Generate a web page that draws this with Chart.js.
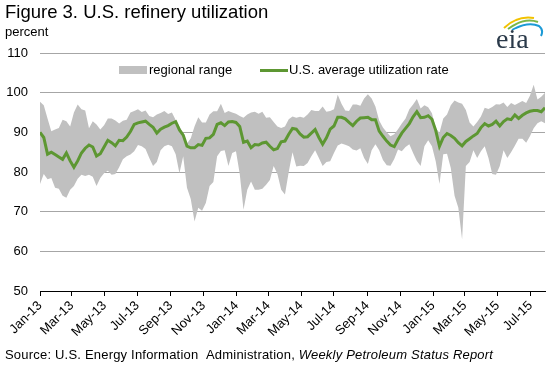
<!DOCTYPE html>
<html>
<head>
<meta charset="utf-8">
<script src="https://cdn.jsdelivr.net/npm/chart.js@4"></script>
<style>
  body { margin: 0; background: #fff; font-family: Arial, "Liberation Sans", sans-serif; }
  #wrap { position: relative; width: 552px; height: 366px; overflow: hidden; }
  #c { position: absolute; left: 0; top: 0; }
  .t { position: absolute; white-space: nowrap; color: #000; }
</style>
</head>
<body>
<div id="wrap">
  <canvas id="c" width="552" height="366"></canvas>
  <div class="t" style="left:5px;top:1px;font-size:18.5px">Figure 3. U.S. refinery utilization</div>
  <div class="t" style="left:5px;top:24px;font-size:13px">percent</div>

  <!-- legend -->
  <div style="position:absolute;left:119px;top:66px;width:28px;height:8px;background:#c0c0c0"></div>
  <div class="t" style="left:149px;top:62px;font-size:13px">regional range</div>
  <div style="position:absolute;left:260px;top:69px;width:28px;height:3px;background:#5d9732"></div>
  <div class="t" style="left:289px;top:62px;font-size:13px">U.S. average utilization rate</div>

  <!-- eia logo -->
  <svg style="position:absolute;left:500px;top:12px" width="48" height="26">
    <path d="M4,16 Q18,3 34,6" stroke="#f2c200" stroke-width="2" fill="none"/>
    <path d="M8,17 Q24,5 38,10" stroke="#7ab648" stroke-width="2" fill="none"/>
    <path d="M12,18 Q28,9 39,14 Q44,18 41,24" stroke="#1c9ad6" stroke-width="2" fill="none"/>
  </svg>
  <div class="t" style="left:496px;top:23px;font-size:28px;font-family:'Liberation Serif',serif;color:#2b3a4a">eia</div>

  <div class="t" style="left:5px;top:347px;font-size:13px;letter-spacing:0.2px">Source: U.S. Energy Information &nbsp;Administration, <i>Weekly Petroleum Status Report</i></div>
</div>

<script>
// weekly data, first week ending Jan 4 2013
const firstWeek = Date.UTC(2013, 0, 4);

const avgRate = [
  90.0, 88.7, 84.5, 85.0, 84.4, 83.8, 83.2, 84.8, 82.8, 81.2,
  82.8, 84.8, 86.0, 86.8, 86.3, 84.0, 84.6, 86.3, 88.0, 87.4,
  86.6, 88.0, 87.9, 88.8, 90.2, 92.0, 92.4, 92.6, 92.8, 92.0,
  91.3, 89.8, 90.8, 91.3, 91.7, 92.3, 92.7, 90.6, 89.3, 86.5,
  86.1, 86.1, 86.9, 86.7, 88.5, 88.6, 89.5, 92.0, 92.4, 91.7,
  92.6, 92.7, 92.5, 91.5, 87.5, 87.8, 86.1, 86.9, 86.8, 87.3,
  87.5, 86.5, 85.6, 85.9, 87.6, 87.8, 89.5, 91.0, 90.8, 89.6,
  88.8, 88.9, 89.8, 90.7, 88.7, 87.0, 88.6, 90.8, 91.6, 93.8,
  93.8, 93.4, 92.5, 91.7, 92.8, 93.6, 93.7, 93.8, 93.2, 93.2,
  90.3, 89.0, 87.8, 86.8, 86.4, 88.2, 89.8, 91.0, 92.2, 93.9,
  95.2, 93.7, 93.8, 94.2, 93.3, 90.5, 86.5, 88.7, 89.7, 89.2,
  88.5, 87.4, 86.6, 87.7, 88.4, 89.1, 89.7, 91.2, 92.2, 91.6,
  92.0, 92.8, 91.6, 92.7, 93.4, 93.2, 94.4, 93.5, 94.3, 94.9,
  95.3, 95.5, 95.5, 95.2, 96.2
];

const rangeMax = [
  97.7, 96.8, 93.5, 90.3, 90.7, 91.1, 93.2, 92.8, 91.5, 95.0,
  97.0, 95.8, 95.5, 91.0, 92.8, 92.0, 90.7, 91.8, 93.5, 93.5,
  93.0, 92.2, 92.9, 93.2, 95.0, 95.4, 95.8, 95.1, 95.5, 94.1,
  93.8, 94.5, 94.9, 95.4, 94.6, 95.0, 93.1, 91.5, 89.8, 87.2,
  88.5, 91.5, 93.8, 92.5, 92.5, 94.5, 95.3, 95.3, 97.2, 94.9,
  95.4, 95.0, 94.7, 94.1, 93.7, 94.5, 95.0, 95.2, 94.7, 95.2,
  93.7, 93.8, 92.6, 91.5, 91.1, 91.5, 93.3, 94.0, 93.7, 93.9,
  93.7, 94.5, 95.6, 95.4, 95.4, 96.5, 95.2, 95.4, 95.8, 99.5,
  97.2, 95.5, 95.4, 97.0, 97.0, 96.7, 98.5, 99.6, 98.5, 96.5,
  93.0, 91.2, 90.0, 89.0, 89.5, 90.8, 92.2, 93.5, 95.8, 97.0,
  98.4, 96.0, 96.8, 96.3, 94.8, 91.0, 89.9, 93.5, 94.5, 96.8,
  98.0, 97.5, 97.2, 95.6, 92.5, 91.5, 92.6, 94.0, 96.2, 95.9,
  96.4, 97.1, 97.0, 97.5, 96.4, 97.4, 96.9, 97.4, 97.9, 97.4,
  99.2, 102.0, 98.3, 99.0, 100.0
];

const rangeMin = [
  77.0, 79.5, 78.2, 78.5, 76.0, 75.8, 74.0, 73.5, 75.5, 76.5,
  78.3, 79.3, 79.0, 79.3, 78.8, 76.5, 78.5, 79.7, 80.3, 79.3,
  79.5, 81.2, 83.2, 84.0, 84.4, 85.2, 86.8, 86.5, 85.8, 83.5,
  81.5, 82.5, 85.5, 86.5, 86.9, 86.5, 84.5, 79.7, 84.0, 76.0,
  73.2, 67.5, 71.0, 70.2, 72.2, 76.5, 77.5, 84.0, 85.3, 85.5,
  81.5, 84.8, 85.2, 79.5, 70.5, 75.5, 77.6, 75.5, 75.5, 75.8,
  76.8, 78.0, 81.5, 79.5, 75.5, 74.3, 80.0, 85.0, 81.4, 81.6,
  81.5, 82.3, 84.0, 85.5, 83.5, 81.5, 82.5, 82.7, 84.8, 86.7,
  87.2, 86.9, 86.5, 85.7, 85.4, 86.0, 83.5, 82.0, 85.5, 87.0,
  85.5, 83.0, 81.7, 81.6, 83.3, 85.7, 85.2, 86.3, 87.0, 84.8,
  82.8, 81.5, 86.5, 88.0, 86.5, 82.7, 77.0, 84.5, 84.6, 81.0,
  74.0, 71.0, 63.0, 81.5, 82.5, 85.5, 83.5, 85.2, 86.5, 83.5,
  79.5, 79.3, 81.5, 85.5, 83.5, 85.0, 86.6, 88.4, 88.4, 87.4,
  89.0, 91.0, 92.3, 92.8, 92.3
];

const tickLabels = ['Jan-13', 'Mar-13', 'May-13', 'Jul-13', 'Sep-13', 'Nov-13',
  'Jan-14', 'Mar-14', 'May-14', 'Jul-14', 'Sep-14', 'Nov-14',
  'Jan-15', 'Mar-15', 'May-15', 'Jul-15'];

const GREEN = '#5d9732';
const GRAY = '#c0c0c0';
const DAY = 86400000;

// x = days since first week
const xDays = avgRate.map((v, i) => i * 7);
const tickDays = tickLabels.map((l, i) =>
  (Date.UTC(2013 + Math.floor(i / 6), (i % 6) * 2, 4) - firstWeek) / DAY);

const pts = arr => arr.map((v, i) => ({ x: xDays[i], y: v }));
const font = { family: 'Arial, "Liberation Sans", sans-serif', size: 13 };

new Chart(document.getElementById('c'), {
  type: 'line',
  data: {
    datasets: [
      { label: 'U.S. average utilization rate', data: pts(avgRate), borderColor: GREEN,
        borderWidth: 3, pointRadius: 0, fill: false, tension: 0 },
      { label: 'regional max', data: pts(rangeMax), borderColor: 'rgba(0,0,0,0)', borderWidth: 0,
        pointRadius: 0, backgroundColor: GRAY, fill: '+1', tension: 0 },
      { label: 'regional min', data: pts(rangeMin), borderColor: 'rgba(0,0,0,0)', borderWidth: 0,
        pointRadius: 0, fill: false, tension: 0 }
    ]
  },
  options: {
    responsive: false,
    animation: false,
    layout: { padding: { top: 53, right: 7, bottom: 15, left: 0 } },
    plugins: { legend: { display: false }, tooltip: { enabled: false } },
    scales: {
      x: {
        type: 'linear',
        min: 0,
        max: xDays[xDays.length - 1],
        afterBuildTicks: s => { s.ticks = tickDays.map(v => ({ value: v })); },
        afterFit: s => { s.height = 60; },
        ticks: {
          autoSkip: false, minRotation: 45, maxRotation: 45, padding: 2,
          color: '#000', font,
          callback: (v, i) => tickLabels[i]
        },
        grid: { drawOnChartArea: false, drawTicks: true, tickLength: 5, color: '#000' },
        border: { display: true, color: '#000' }
      },
      y: {
        min: 50, max: 110,
        afterFit: s => { s.width = 40; },
        ticks: { stepSize: 10, padding: 12, color: '#000', font },
        grid: {
          drawTicks: false,
          color: c => c.tick && c.tick.value === 50 ? 'rgba(0,0,0,0)' : '#a6a6a6'
        },
        border: { display: false }
      }
    }
  }
});
</script>
</body>
</html>
